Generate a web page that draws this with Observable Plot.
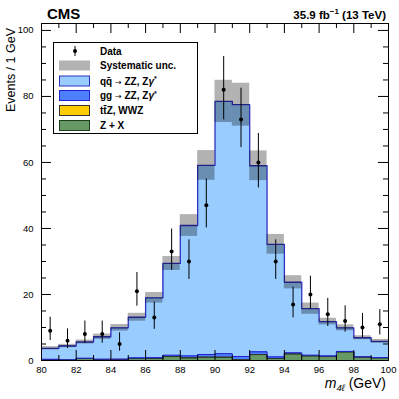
<!DOCTYPE html>
<html><head><meta charset="utf-8">
<script src="https://cdn.jsdelivr.net/npm/d3@7"></script>
<script src="https://cdn.jsdelivr.net/npm/@observablehq/plot@0.6"></script>
<style>body{margin:0;background:#fff} svg{display:block}</style>
</head><body><div id="chart"></div>
<script>
// ---- data ----
const binLow = [80,81,82,83,84,85,86,87,88,89,90,91,92,93,94,95,96,97,98,99];
const binWidth = 1;
const dataCounts = [9,6,8,8,5,21,13,33,30,47,82,73,60,30,17,20,14,12,10,11];
const dataLow  = [6.06,3.62,5.23,5.23,2.84,16.46,9.44,27.28,24.56,40.15,72.9,64.5,52.27,24.56,12.91,15.57,10.30,8.58,6.89,7.73];
const dataHigh = [13.11,9.58,11.95,11.95,8.38,26.66,17.70,39.83,36.55,55.0,92.1,82.5,68.79,36.55,22.2,25.55,18.83,16.56,14.27,15.42];
const zPlusX = [0.3,0.1,0.6,0.3,0.3,0.6,0.6,1.2,0.8,1.0,1.0,0.2,1.8,0.6,2.0,1.4,1.2,2.6,1.0,0.8];
const ttZWWZ = [0.02,0.02,0.02,0.02,0.02,0.02,0.02,0.02,0.02,0.02,0.02,0.02,0.02,0.02,0.02,0.02,0.02,0.02,0.02,0.02];
const ggZZ   = [0.05,0.06,0.08,0.1,0.13,0.17,0.25,0.4,0.55,0.8,1.05,1.0,0.8,0.45,0.3,0.2,0.15,0.12,0.09,0.07];
const qqZZ   = [3.33,4.22,4.90,6.78,9.45,12.31,18.13,27.78,39.53,57.28,76.43,76.28,56.38,34.13,21.38,14.08,10.43,7.16,5.79,4.91];
const sysUnc = [0.5,0.5,0.6,0.8,1.0,1.2,1.6,2.1,3.3,4.5,6.4,6.5,4.5,3.0,2.0,1.7,1.0,0.9,0.6,0.6];
const xTicksMajor = [80,82,84,86,88,90,92,94,96,98,100];
const xTicksMinor = [81,83,85,87,89,91,93,95,97,99];
const yTicksMajor = [0,20,40,60,80,100];
const yTicksMinor = [5,10,15,25,30,35,45,50,55,65,70,75,85,90,95];
const seriesNames = ["Z + X","ttZ, WWZ","gg → ZZ","qq → ZZ"];
const seriesFill  = ["#669966","#ffcc00","#4d7fff","#99ccff"];
const seriesLine  = ["#1d3d1d","#333333","#2222cc","#3030c0"];

// ---- layout ----
const W = 399, H = 399;
const mL = 41, mR = 11, mT = 23, mB = 39;
const fw = W - mL - mR, fh = H - mT - mB;
const font = "Liberation Sans, Arial, Helvetica, sans-serif";

const comps = [zPlusX, ttZWWZ, ggZZ, qqZZ];
const table = [];
binLow.forEach((x, i) => comps.forEach((arr, s) => table.push({x1: x, x2: x + binWidth, y: arr[i], s: seriesNames[s]})));

// cumulative tops for outlines
const cum = [];
let run = binLow.map(() => 0);
comps.forEach(arr => { run = run.map((v, i) => v + arr[i]); cum.push(run.slice()); });
const total = cum[3];
const stepPts = c => binLow.map((x, i) => ({x, y: c[i]})).concat([{x: binLow[binLow.length - 1] + binWidth, y: c[c.length - 1]}]);
const band = binLow.map((x, i) => ({x1: x, x2: x + binWidth, y1: total[i] - sysUnc[i], y2: total[i] + sysUnc[i]}));
const pts = binLow.map((x, i) => ({x: x + binWidth / 2, y: dataCounts[i], lo: dataLow[i], hi: dataHigh[i]}));

const plot = Plot.plot({
  width: W, height: H,
  marginLeft: mL, marginRight: mR, marginTop: mT, marginBottom: mB,
  style: {fontFamily: font, fontSize: "9.5px", color: "black", background: "white"},
  x: {domain: [80, 100]},
  y: {domain: [0, 102.1]},
  color: {domain: seriesNames, range: seriesFill},
  marks: [
    Plot.rectY(table, {x1: "x1", x2: "x2", y: "y", fill: "s", order: seriesNames, shapeRendering: "crispEdges"}),
    ...cum.map((c, k) => Plot.line(stepPts(c), {x: "x", y: "y", curve: "step-after", stroke: seriesLine[k], strokeWidth: k === 3 ? 1.3 : 1})),
    Plot.rectY(band, {x1: "x1", x2: "x2", y1: "y1", y2: "y2", fill: "black", fillOpacity: 0.3}),
    Plot.ruleX(pts, {x: "x", y1: "lo", y2: "hi", stroke: "black", strokeWidth: 1}),
    Plot.dot(pts, {x: "x", y: "y", r: 2, fill: "black", stroke: "none"}),
    // ticks (inward, all four sides)
    Plot.tickX(xTicksMajor, {x: d => d, insetTop: fh - 10, stroke: "black"}),
    Plot.tickX(xTicksMinor, {x: d => d, insetTop: fh - 5, stroke: "black"}),
    Plot.tickX(xTicksMajor, {x: d => d, insetBottom: fh - 10, stroke: "black"}),
    Plot.tickX(xTicksMinor, {x: d => d, insetBottom: fh - 5, stroke: "black"}),
    Plot.tickY(yTicksMajor, {y: d => d, insetRight: fw - 10, stroke: "black"}),
    Plot.tickY(yTicksMinor, {y: d => d, insetRight: fw - 5, stroke: "black"}),
    Plot.tickY(yTicksMajor, {y: d => d, insetLeft: fw - 10, stroke: "black"}),
    Plot.tickY(yTicksMinor, {y: d => d, insetLeft: fw - 5, stroke: "black"}),
    Plot.axisX({ticks: xTicksMajor, tickSize: 0, tickPadding: 6, label: null, tickFormat: d => String(d)}),
    Plot.axisY({ticks: yTicksMajor, tickSize: 0, tickPadding: 8, label: null, tickFormat: d => String(d)}),
    Plot.frame({stroke: "black", strokeWidth: 1})
  ]
});
document.getElementById("chart").appendChild(plot);

// ---- titles, axis titles and legend drawn into the same SVG ----
const svg = d3.select(plot);
const g = svg.append("g").attr("font-family", font).attr("fill", "black").attr("text-anchor", "start");

g.append("text").attr("x", 47).attr("y", 18.5).attr("font-size", 15).attr("font-weight", "bold").attr("text-anchor", "start").text("CMS");
const lumi = g.append("text").attr("x", 386).attr("y", 18.5).attr("font-size", 11.5).attr("font-weight", "bold").attr("text-anchor", "end");
lumi.append("tspan").text("35.9 fb");
lumi.append("tspan").attr("dy", -4.5).attr("font-size", 8).text("\u22121");
lumi.append("tspan").attr("dy", 4.5).text(" (13 TeV)");

g.append("text").attr("transform", "translate(15,28) rotate(-90)").attr("text-anchor", "end").attr("font-size", 12.5).text("Events / 1 GeV");

const xl = g.append("text").attr("x", 386).attr("y", 388).attr("text-anchor", "end").attr("font-size", 14);
xl.append("tspan").attr("font-style", "italic").text("m");
xl.append("tspan").attr("font-style", "italic").attr("font-size", 9.5).attr("dy", 3).text("4\u2113");
xl.append("tspan").attr("dy", -3).text(" (GeV)");

// legend
const lg = g.append("g");
lg.append("rect").attr("x", 53.5).attr("y", 42.5).attr("width", 144).attr("height", 91).attr("fill", "white").attr("stroke", "black").attr("stroke-width", 1);
const rows = [51, 65.5, 81, 95.5, 110.5, 125.5];
// data entry
lg.append("line").attr("x1", 75).attr("x2", 75).attr("y1", 46).attr("y2", 56).attr("stroke", "black");
lg.append("circle").attr("cx", 75).attr("cy", 51).attr("r", 2).attr("fill", "black");
// systematic
lg.append("rect").attr("x", 59).attr("y", rows[1] - 5).attr("width", 31).attr("height", 10).attr("fill", "#b3b3b3");
// processes (top of stack first)
[3, 2, 1, 0].forEach((k, j) => {
  lg.append("rect").attr("x", 59.5).attr("y", rows[2 + j] - 5).attr("width", 30).attr("height", 10)
    .attr("fill", seriesFill[k]).attr("stroke", seriesLine[k]).attr("stroke-width", 1);
});
const lt = (i) => lg.append("text").attr("x", 100).attr("y", rows[i] + 3.5).attr("font-size", 10).attr("font-weight", "bold").attr("text-anchor", "start");
const arrow = (t) => t.append("tspan").attr("font-family", "DejaVu Sans").attr("font-weight", "normal").attr("font-size", 8).text("\u2192");
const proc = (t, a) => {
  t.append("tspan").text(a + " ");
  arrow(t);
  t.append("tspan").text(" ZZ, Z");
  t.append("tspan").attr("font-style", "italic").text("\u03B3");
  t.append("tspan").attr("dy", -3.5).attr("font-size", 7).text("*");
};
lt(0).text("Data");
lt(1).text("Systematic unc.");
proc(lt(2), "qq\u0304");
proc(lt(3), "gg");
lt(4).text("tt\u0304Z, WWZ");
lt(5).text("Z + X");
</script>
</body></html>
